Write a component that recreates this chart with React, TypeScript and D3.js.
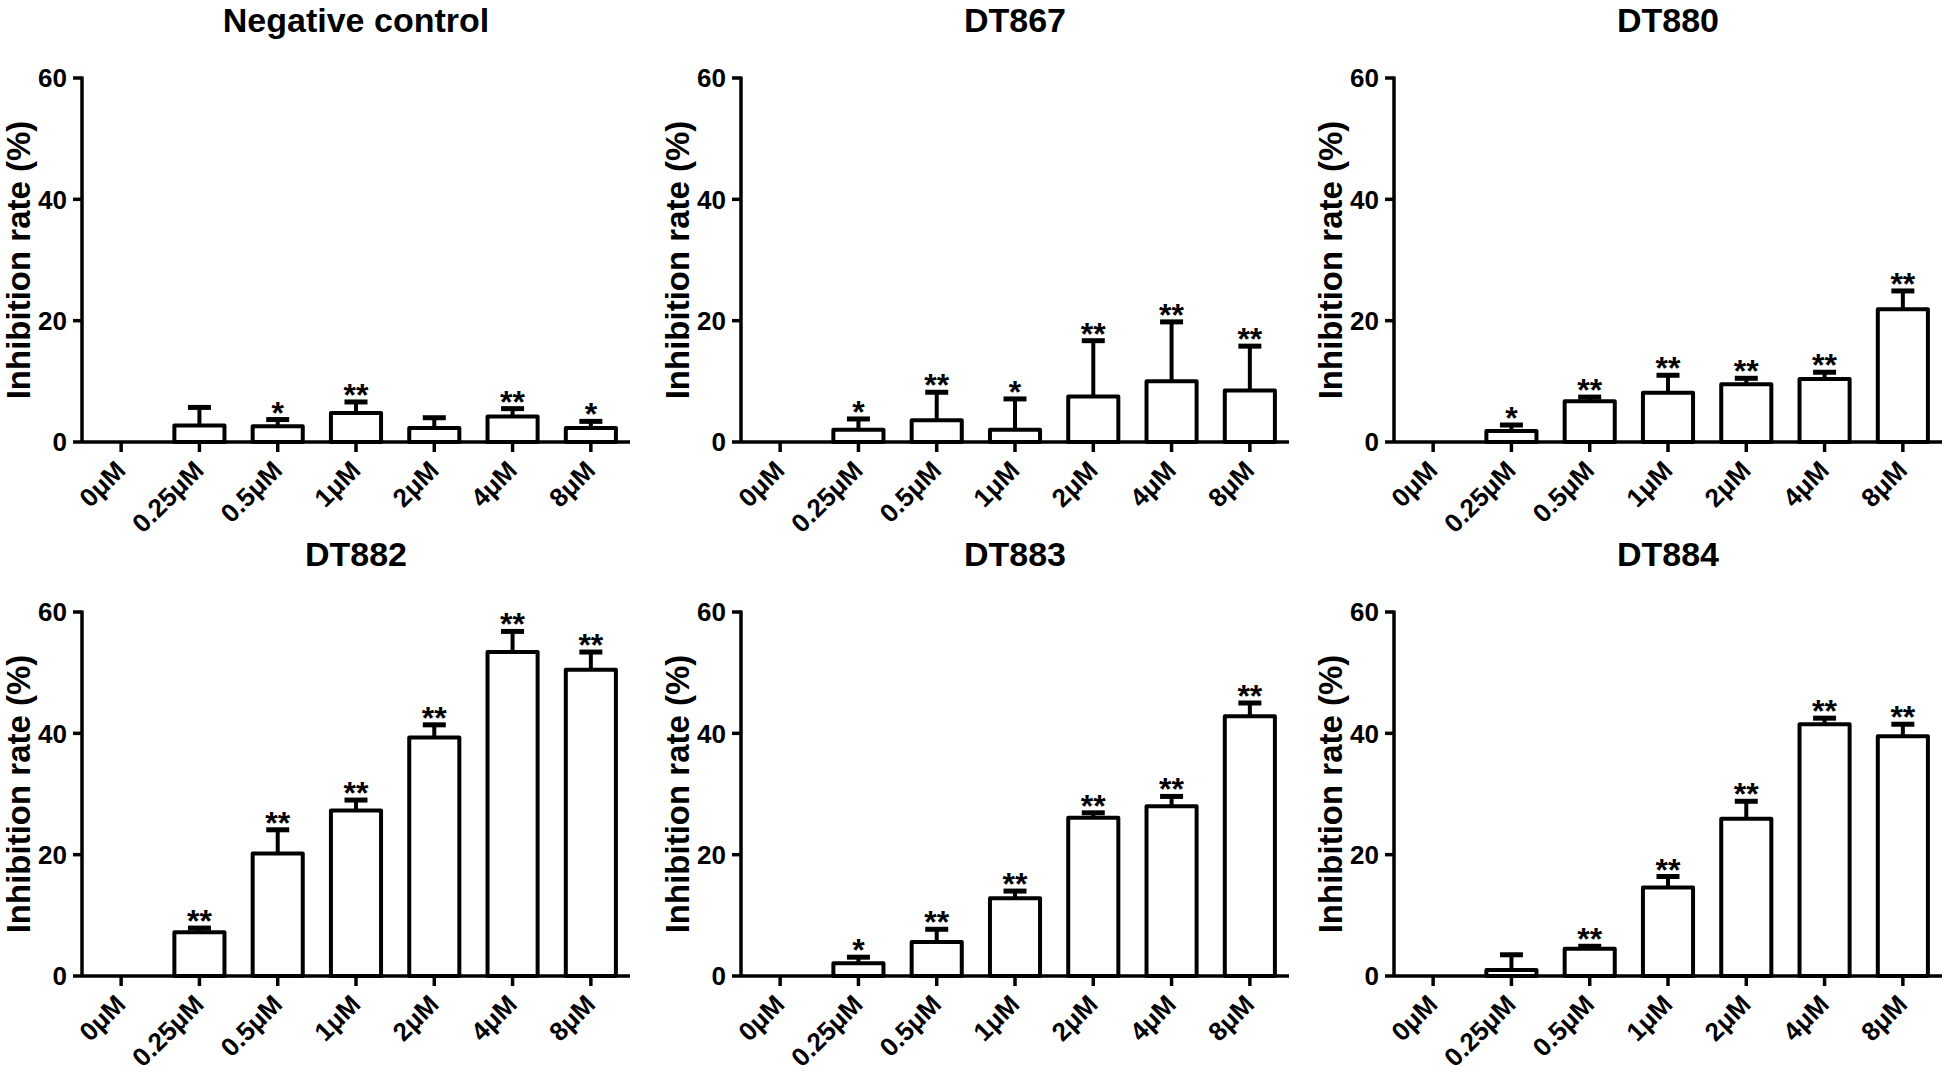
import React from 'react';
import * as d3 from 'd3';

const concentrations = ['0μM', '0.25μM', '0.5μM', '1μM', '2μM', '4μM', '8μM'];
const yTicks = [0, 20, 40, 60];
const panelTitles = ['Negative control', 'DT867', 'DT880', 'DT882', 'DT883', 'DT884'];

const negMeans = [0, 2.7, 2.6, 4.8, 2.3, 4.2, 2.3];
const negErr = [0, 3.0, 1.1, 1.8, 1.7, 1.3, 1.1];
const negStars = ['', '', '*', '**', '', '**', '*'];

const dt867Means = [0, 2.0, 3.6, 2.0, 7.5, 10.0, 8.5];
const dt867Err = [0, 1.8, 4.6, 5.1, 9.2, 9.8, 7.3];
const dt867Stars = ['', '*', '**', '*', '**', '**', '**'];

const dt880Means = [0, 1.8, 6.7, 8.1, 9.5, 10.4, 21.9];
const dt880Err = [0, 1.0, 0.7, 2.9, 1.0, 1.1, 3.0];
const dt880Stars = ['', '*', '**', '**', '**', '**', '**'];

const dt882Means = [0, 7.2, 20.2, 27.3, 39.3, 53.4, 50.5];
const dt882Err = [0, 0.7, 3.9, 1.7, 2.1, 3.4, 2.9];
const dt882Stars = ['', '**', '**', '**', '**', '**', '**'];

const dt883Means = [0, 2.1, 5.6, 12.8, 26.1, 28.0, 42.8];
const dt883Err = [0, 1.0, 2.1, 1.2, 0.8, 1.6, 2.2];
const dt883Stars = ['', '*', '**', '**', '**', '**', '**'];

const dt884Means = [0, 1.0, 4.5, 14.6, 25.9, 41.5, 39.5];
const dt884Err = [0, 2.5, 0.4, 1.8, 2.9, 1.0, 2.0];
const dt884Stars = ['', '', '**', '**', '**', '**', '**'];

const yLabel = 'Inhibition rate (%)';

const panels = [
  { title: panelTitles[0], means: negMeans, err: negErr, stars: negStars },
  { title: panelTitles[1], means: dt867Means, err: dt867Err, stars: dt867Stars },
  { title: panelTitles[2], means: dt880Means, err: dt880Err, stars: dt880Stars },
  { title: panelTitles[3], means: dt882Means, err: dt882Err, stars: dt882Stars },
  { title: panelTitles[4], means: dt883Means, err: dt883Err, stars: dt883Stars },
  { title: panelTitles[5], means: dt884Means, err: dt884Err, stars: dt884Stars },
];

const colX: [number, number][] = [[82, 630], [741, 1289], [1394, 1942]];
const rowY: [number, number][] = [[78, 442], [612, 976]];

const FONT = "'Liberation Sans', Arial, Helvetica, sans-serif";

function Panel({ p, xr, yr }: { p: any; xr: [number, number]; yr: [number, number] }) {
  const x = d3.scaleBand<string>().domain(concentrations).range(xr).paddingInner(0.36).paddingOuter(0.18);
  const y = d3.scaleLinear().domain([0, 60]).range([yr[1], yr[0]]);
  const axisX = xr[0];
  const baseY = y(0);
  const bw = x.bandwidth();
  const capW = 23;
  return (
    <g>
      <text x={(xr[0] + xr[1]) / 2} y={yr[0] - 46} textAnchor="middle" fontFamily={FONT} fontWeight="bold" fontSize={34}>{p.title}</text>
      <text transform={`translate(${axisX - 52},${(yr[0] + yr[1]) / 2}) rotate(-90)`} textAnchor="middle" fontFamily={FONT} fontWeight="bold" fontSize={33}>{yLabel}</text>
      {concentrations.map((c, i) => {
        const m = p.means[i];
        const e = p.err[i];
        const cx = (x(c) as number) + bw / 2;
        const top = y(m);
        const capY = y(m + e);
        return (
          <g key={c}>
            {m > 0 && (
              <line x1={cx} x2={cx} y1={top} y2={capY} stroke="#000" strokeWidth={4} />
            )}
            {m > 0 && (
              <line x1={cx - capW / 2} x2={cx + capW / 2} y1={capY} y2={capY} stroke="#000" strokeWidth={5} />
            )}
            {m > 0 && (
              <rect x={x(c) as number} y={top} width={bw} height={baseY - top} fill="#fff" stroke="#000" strokeWidth={4} strokeLinejoin="round" />
            )}
            {p.stars[i] && (
              <text x={cx} y={capY + 4} textAnchor="middle" fontFamily={FONT} fontWeight="bold" fontSize={32}>{p.stars[i]}</text>
            )}
          </g>
        );
      })}
      {/* y axis */}
      <line x1={axisX} x2={axisX} y1={yr[0] - 1.5} y2={baseY} stroke="#000" strokeWidth={3.5} />
      {yTicks.map((t) => (
        <g key={t}>
          <line x1={axisX - 9} x2={axisX} y1={y(t)} y2={y(t)} stroke="#000" strokeWidth={3.5} />
          <text x={axisX - 15} y={y(t)} dy="0.36em" textAnchor="end" fontFamily={FONT} fontWeight="bold" fontSize={26}>{t}</text>
        </g>
      ))}
      {/* x axis */}
      <line x1={axisX} x2={xr[1]} y1={baseY} y2={baseY} stroke="#000" strokeWidth={3.5} />
      {concentrations.map((c) => {
        const cx = (x(c) as number) + bw / 2;
        return (
          <g key={'t' + c}>
            <line x1={cx} x2={cx} y1={baseY} y2={baseY + 10} stroke="#000" strokeWidth={3.5} />
            <text transform={`translate(${cx + 6},${baseY + 30}) rotate(-45)`} textAnchor="end" fontFamily={FONT} fontWeight="bold" fontSize={26}>{c}</text>
          </g>
        );
      })}
    </g>
  );
}

export default function App() {
  return (
    <svg width={1944} height={1074} style={{ position: 'absolute', left: 0, top: 0, background: '#fff' }}>
      <rect width={1944} height={1074} fill="#fff" />
      {panels.map((p, i) => (
        <Panel key={p.title} p={p} xr={colX[i % 3]} yr={rowY[Math.floor(i / 3)]} />
      ))}
    </svg>
  );
}
